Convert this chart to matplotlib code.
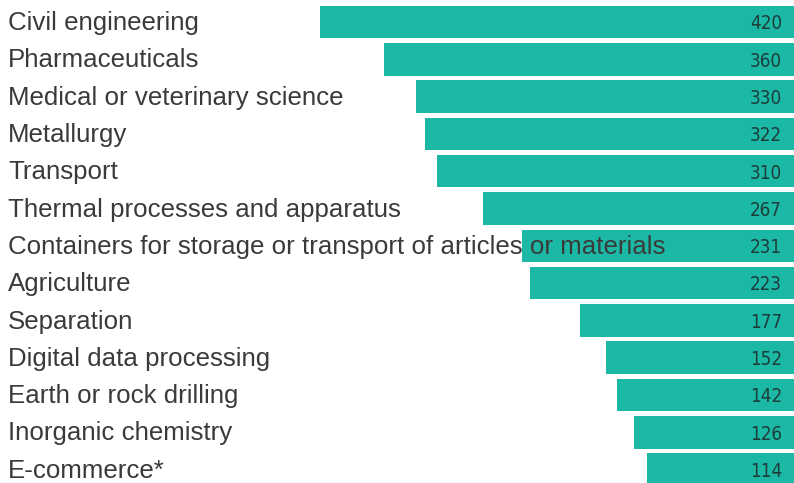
import numpy as np
import matplotlib
matplotlib.use("Agg")
import matplotlib.pyplot as plt
import matplotlib.transforms as mtransforms

categories = ["Civil engineering", "Pharmaceuticals", "Medical or veterinary science",
              "Metallurgy", "Transport", "Thermal processes and apparatus",
              "Containers for storage or transport of articles or materials",
              "Agriculture", "Separation", "Digital data processing",
              "Earth or rock drilling", "Inorganic chemistry", "E-commerce*"]
values = [420, 360, 330, 322, 310, 267, 231, 223, 177, 152, 142, 126, 114]

BAR_COLOR = "#1bb9a5"
PAD = 23.4  # bars run a bit past zero to the right edge

fig = plt.figure(figsize=(7.94, 4.83), dpi=100)
ax = fig.add_axes([0, 0, 1, 1])

y = np.arange(len(categories))
vals = np.array(values, dtype=float)
ax.barh(y, vals + PAD, left=-PAD, height=0.87, color=BAR_COLOR, zorder=1)

ax.set_xlim(719, -PAD)
ax.set_ylim(12.36, -0.59)
ax.axis("off")

trans = mtransforms.blended_transform_factory(ax.transAxes, ax.transData)
for yi, cat, v in zip(y, categories, values):
    ax.text(0.010, yi + 0.03, cat, transform=trans, ha="left", va="center",
            fontsize=18.6, color="#3a3a3a", family=["Liberation Sans", "DejaVu Sans"], zorder=3)
    ax.text(0.985, yi + 0.05, str(v), transform=trans, ha="right", va="center",
            fontsize=13.5, color="#1d3d3a",
            family=["Liberation Sans Narrow", "DejaVu Sans"], stretch="condensed", zorder=3)

fig.savefig("out.png", dpi=100, facecolor="white")
